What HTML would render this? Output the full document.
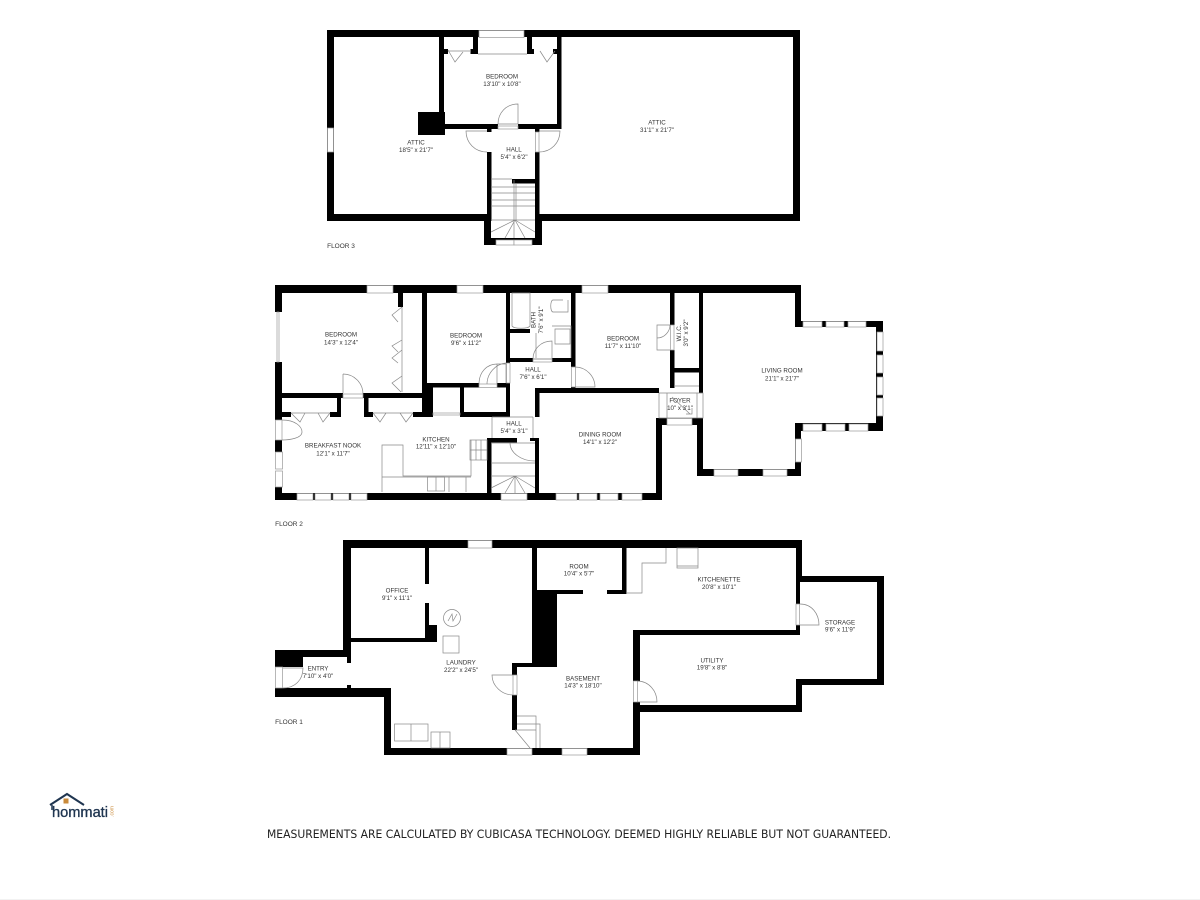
<!DOCTYPE html>
<html><head><meta charset="utf-8"><style>
html,body{margin:0;padding:0;background:#fff;width:1200px;height:900px;overflow:hidden}
svg{display:block}
text{font-family:"Liberation Sans",sans-serif;fill:#333;text-anchor:middle;font-size:6.2px}
.w rect{fill:#000}
.o rect{fill:#fff;stroke:#999;stroke-width:.7}
.g rect{fill:#fff}
.l path,.l rect,.l circle{fill:none;stroke:#888;stroke-width:.7}
</style></head><body>
<svg width="1200" height="900" viewBox="0 0 1200 900" xmlns="http://www.w3.org/2000/svg">
<rect width="1200" height="900" fill="#fff"/>
<rect x="0" y="899" width="1200" height="1" fill="#f2f2f2"/>

<!-- FLOOR 3 walls -->
<g class="w">
<rect x="327" y="30" width="473" height="7"/>
<rect x="327" y="30" width="7" height="191"/>
<rect x="327" y="214" width="161" height="7"/>
<rect x="539" y="214" width="261" height="7"/>
<rect x="793" y="30" width="7" height="191"/>
<rect x="439" y="37" width="5" height="92"/>
<rect x="557" y="37" width="4.500" height="92"/>
<rect x="439" y="124" width="59" height="5"/>
<rect x="518" y="124" width="43" height="5"/>
<rect x="418" y="112" width="27" height="23"/>
<rect x="473" y="37" width="5" height="17"/>
<rect x="470.500" y="49" width="7.500" height="5"/>
<rect x="444" y="49" width="4" height="5"/>
<rect x="527" y="37" width="5" height="17"/>
<rect x="527" y="49" width="7" height="5"/>
<rect x="553" y="49" width="4" height="5"/>
<rect x="487" y="129" width="4.500" height="92"/>
<rect x="535" y="129" width="4.500" height="92"/>
<rect x="512" y="179" width="23" height="4.500"/>
<rect x="484" y="221" width="7" height="24"/>
<rect x="535" y="221" width="7" height="24"/>
<rect x="484" y="238" width="58" height="7"/>
</g>
<g class="g">
<rect x="487" y="132" width="4.500" height="20"/>
<rect x="535" y="132" width="4.500" height="20"/>
</g>
<g class="o">
<rect x="479" y="30.500" width="45" height="7"/>
<rect x="327.500" y="128" width="6" height="24"/>
<rect x="496" y="240" width="18" height="5"/>
<rect x="514" y="240" width="18" height="5"/>
<rect x="498" y="126" width="20" height="3"/>
<rect x="535.500" y="132" width="3.500" height="20"/>
</g>
<g class="l">
<path d="M518 104V124H498C498 113 506 104 518 104Z"/>
<path d="M487 131H466C466 143 475 152 487 152"/>
<path d="M539 131H560C560 143 551 152 539 152"/>
<path d="M448 50L455 62L463 52M448 51H471"/>
<path d="M540 51L547 62L555 51"/>
<path d="M478 54H527"/>
<path d="M491 179H512M491 187H535M491 193H535M491 200H535M491 206H535M491 220H535M514 180V238M516 183V220M515 220L491 232M515 220L505 238M515 220L525 238M515 220L535 232"/>
</g>
<text x="502" y="78.500">BEDROOM</text><text x="502" y="86">13'10" x 10'8"</text>
<text x="416" y="144.500">ATTIC</text><text x="416" y="152">18'5" x 21'7"</text>
<text x="514" y="151.500">HALL</text><text x="514" y="159">5'4" x 6'2"</text>
<text x="657" y="124.500">ATTIC</text><text x="657" y="132">31'1" x 21'7"</text>
<text x="341" y="248" style="font-size:6.500px">FLOOR 3</text>

<!-- FLOOR 2 walls -->
<g class="w">
<rect x="275" y="285" width="526" height="8"/>
<rect x="795" y="285" width="6" height="42"/>
<rect x="795" y="321" width="88" height="6"/>
<rect x="876" y="321" width="7" height="110"/>
<rect x="795" y="423" width="88" height="8"/>
<rect x="795" y="423" width="6" height="53"/>
<rect x="697" y="469" width="104" height="7"/>
<rect x="697" y="418" width="6" height="58"/>
<rect x="699" y="293" width="4" height="100"/>
<rect x="275" y="285" width="7" height="27"/>
<rect x="275" y="362" width="7" height="58"/>
<rect x="275" y="440" width="7" height="12"/>
<rect x="275" y="487" width="7" height="13"/>
<rect x="275" y="493" width="387" height="7"/>
<rect x="656" y="418" width="6" height="82"/>
<rect x="656" y="418" width="11" height="7"/>
<rect x="692" y="418" width="11" height="7"/>
<rect x="535" y="388" width="140" height="5"/>
<rect x="535" y="388" width="4.500" height="29"/>
<rect x="535" y="439" width="4" height="61"/>
<rect x="670" y="293" width="4.500" height="100"/>
<rect x="674" y="368" width="25" height="4.500"/>
<rect x="506" y="293" width="4" height="124"/>
<rect x="571" y="293" width="4.500" height="97"/>
<rect x="510" y="358" width="65" height="4"/>
<rect x="510" y="329" width="20" height="4"/>
<rect x="422" y="293" width="5" height="105"/>
<rect x="422" y="384" width="11" height="33"/>
<rect x="282" y="393" width="145" height="5"/>
<rect x="398" y="293" width="5" height="14"/>
<rect x="282" y="412" width="9" height="5"/>
<rect x="330" y="412" width="11" height="5"/>
<rect x="337" y="398" width="4" height="19"/>
<rect x="364" y="398" width="4.500" height="19"/>
<rect x="364" y="412" width="9" height="5"/>
<rect x="413" y="412" width="20" height="5"/>
<rect x="427" y="383" width="83" height="4.500"/>
<rect x="460" y="387" width="4" height="30"/>
<rect x="460" y="412" width="50" height="5"/>
<rect x="487" y="438" width="4.500" height="62"/>
<rect x="487" y="438" width="30" height="4.500"/>
<rect x="530" y="438" width="9" height="3"/>
</g>
<g class="g">
<rect x="343" y="393" width="20" height="5"/>
<rect x="479" y="383" width="18" height="4.500"/>
<rect x="533" y="358" width="19" height="4"/>
<rect x="571" y="367" width="4.500" height="20"/>
<rect x="670" y="325" width="4.500" height="25"/>
<rect x="675" y="388" width="0" height="0"/>
<rect x="659" y="388" width="16" height="5"/>
<rect x="506" y="363" width="4" height="20"/>
</g>
<g class="o">
<rect x="367" y="285.500" width="26" height="7.500"/>
<rect x="457" y="285.500" width="26" height="7.500"/>
<rect x="582" y="285.500" width="26" height="7.500"/>
<rect x="803" y="321.500" width="19" height="5.500"/>
<rect x="826" y="321.500" width="18" height="5.500"/>
<rect x="848" y="321.500" width="18" height="5.500"/>
<rect x="877" y="332" width="6" height="19"/>
<rect x="877" y="355" width="6" height="18"/>
<rect x="877" y="377" width="6" height="18"/>
<rect x="877" y="398" width="6" height="18"/>
<rect x="803" y="424" width="19" height="7"/>
<rect x="826" y="424" width="19" height="7"/>
<rect x="849" y="424" width="19" height="7"/>
<rect x="795.500" y="439" width="6" height="23"/>
<rect x="714" y="469.500" width="24" height="6.500"/>
<rect x="763" y="469.500" width="24" height="6.500"/>
<rect x="667" y="418.500" width="25" height="6.500"/>
<rect x="275.500" y="420" width="6.500" height="20"/>
<rect x="275.500" y="452" width="7" height="17"/>
<rect x="275.500" y="471" width="7" height="16"/>
<rect x="297" y="493.500" width="16" height="6.500"/>
<rect x="315" y="493.500" width="16" height="6.500"/>
<rect x="333" y="493.500" width="16" height="6.500"/>
<rect x="351" y="493.500" width="16" height="6.500"/>
<rect x="501" y="493.500" width="26" height="6.500"/>
<rect x="556" y="493.500" width="21" height="6.500"/>
<rect x="579" y="493.500" width="18" height="6.500"/>
<rect x="600" y="493.500" width="18" height="6.500"/>
<rect x="622" y="493.500" width="20" height="6.500"/>
<rect x="343" y="394" width="20" height="4"/>
<rect x="479" y="384" width="18" height="3.500"/>
<rect x="533" y="359" width="19" height="3"/>
<rect x="571.500" y="367" width="4" height="20"/>
<rect x="670.500" y="325" width="3.500" height="25"/>
<rect x="506.500" y="363" width="3.500" height="20"/>
<rect x="277" y="312" width="2" height="50"/>
<rect x="433" y="413" width="27" height="2"/>
</g>
<g class="l">
<path d="M343 374C354 374 363 383 363 394M343 374V393"/>
<path d="M282 420C296 420 302 427 302 432C302 438 290 440 282 440"/>
<path d="M402 307L392 315L398 322M402 340L392 346L398 352M402 350L392 358L398 363M402 376L392 383L401 392M402 307V392"/>
<path d="M291 413L300 422L305 413M318 413L323 422L330 413M291 413H330"/>
<path d="M373 413L380 422L386 413M400 413L406 422L413 413M373 413H413"/>
<path d="M479 384C479 372 487 364 497 364V384M487 384C487 374 495 364 506 363M497 364H506V383"/>
<path d="M533 359C533 349 541 341 552 341V359H533"/>
<path d="M575 367C587 367 595 377 595 387H575"/>
<path d="M670 325H657V338C665 338 670 331 670 325M670 350H657V337"/>
<path d="M512 293H530V326C528 329 514 329 512 326Z"/>
<path d="M536 333V358M552 326H571V358M555 329H570V344H555Z"/>
<path d="M563 300H553C550 300 550 312 553 312H568V300"/>
<path d="M382 492V445H403V476H471V440"/>
<path d="M382 477H471M449 477V492M466 477V492"/>
<rect x="470" y="440" width="17" height="20"/>
<path d="M470 450H487M476 440V460M481 440V460"/>
<rect x="427.500" y="477" width="17" height="14"/>
<path d="M436 477V491"/>
<path d="M491 443H535M491 463H535M491 476H535M515 476V493M515 476L491 488M515 476L505 493M515 476L525 493M515 476L535 488M510 443C510 452 520 461 535 461"/>
<path d="M492 417H533M492 417V438M533 417V438"/>
<path d="M659 393V418H703V393H659M667 393V418M697 393V418M672 397L690 414M692 408V414H686"/>
<path d="M674 386H699"/>
</g>
<text x="341" y="336.500">BEDROOM</text><text x="341" y="344.500">14'3" x 12'4"</text>
<text x="466" y="337.500">BEDROOM</text><text x="466" y="345">9'6" x 11'2"</text>
<text x="623" y="340.500">BEDROOM</text><text x="623" y="348">11'7" x 11'10"</text>
<text x="533" y="371.500">HALL</text><text x="533" y="379">7'6" x 6'1"</text>
<text x="514" y="425.500">HALL</text><text x="514" y="433">5'4" x 3'1"</text>
<text x="333" y="447.500">BREAKFAST NOOK</text><text x="333" y="455.500">12'1" x 11'7"</text>
<text x="436" y="441.500">KITCHEN</text><text x="436" y="448.500">12'11" x 12'10"</text>
<text x="600" y="436.500">DINING ROOM</text><text x="600" y="444">14'1" x 12'2"</text>
<text x="782" y="372.500">LIVING ROOM</text><text x="782" y="380.500">21'1" x 21'7"</text>
<text x="680" y="402.500">FOYER</text><text x="680" y="410">10" x 3'1"</text>
<text transform="translate(535.500,320) rotate(-90)">BATH</text><text transform="translate(543,320) rotate(-90)">7'6" x 9'1"</text>
<text transform="translate(681,333) rotate(-90)">W.I.C.</text><text transform="translate(688,333) rotate(-90)">3'0" x 9'2"</text>
<text x="289" y="526" style="font-size:6.500px">FLOOR 2</text>

<!-- FLOOR 1 walls -->
<g class="w">
<rect x="343" y="540" width="459" height="8"/>
<rect x="343" y="540" width="8" height="117"/>
<rect x="275" y="650" width="76" height="7"/>
<rect x="275" y="650" width="28" height="17"/>
<rect x="275" y="688" width="116" height="9"/>
<rect x="384" y="688" width="7" height="67"/>
<rect x="384" y="748" width="256" height="7"/>
<rect x="633" y="630" width="7" height="51"/>
<rect x="633" y="702" width="7" height="53"/>
<rect x="633" y="630" width="167" height="5"/>
<rect x="796" y="540" width="6" height="37"/>
<rect x="796" y="577" width="4" height="27"/>
<rect x="796" y="625" width="4" height="10"/>
<rect x="796" y="576" width="88" height="6"/>
<rect x="877" y="576" width="7" height="109"/>
<rect x="796" y="679" width="88" height="6"/>
<rect x="796" y="679" width="6" height="33"/>
<rect x="633" y="705" width="169" height="7"/>
<rect x="425" y="548" width="4" height="36"/>
<rect x="425" y="603" width="4" height="37"/>
<rect x="425" y="625" width="12" height="17"/>
<rect x="351" y="638" width="86" height="4"/>
<rect x="347" y="657" width="4" height="6"/>
<rect x="347" y="685" width="4" height="4"/>
<rect x="532" y="548" width="5" height="119"/>
<rect x="532" y="590" width="25" height="77"/>
<rect x="537" y="590" width="46" height="4"/>
<rect x="607" y="590" width="19" height="4"/>
<rect x="622" y="548" width="4.500" height="46"/>
<rect x="512" y="663" width="45" height="4"/>
<rect x="512" y="663" width="5" height="12"/>
<rect x="512" y="695" width="5" height="35"/>
</g>
<g class="o">
<rect x="468" y="540.500" width="24" height="7.500"/>
<rect x="507" y="748.500" width="25" height="6.500"/>
<rect x="562" y="748.500" width="25" height="6.500"/>
<rect x="275.500" y="667" width="7" height="21"/>
<rect x="513" y="675" width="4" height="20"/>
<rect x="633.500" y="681" width="4" height="21"/>
<rect x="796" y="604" width="3.500" height="21"/>
</g>
<g class="l">
<path d="M283 668H303C303 680 295 688 283 688"/>
<path d="M513 675H492C492 686 502 695 513 695"/>
<path d="M637 681C649 681 657 691 657 702H637"/>
<path d="M800 604C812 604 819 614 819 625H800"/>
<path d="M626 593H642V563H666V548"/>
<rect x="677" y="548" width="21" height="20"/>
<path d="M677 566H698"/>
<circle cx="452" cy="618" r="8.500"/>
<path d="M448 621L452 614L453 621L457 614"/>
<rect x="443" y="636" width="16" height="17"/>
<rect x="394.500" y="724" width="33.500" height="17"/>
<path d="M411 724V741"/>
<rect x="431" y="732" width="19" height="16"/>
<path d="M440 732V748"/>
<path d="M517 716H536V748M517 724H540V748M515 730L530 748M515 730H536"/>
</g>
<text x="397" y="592.500">OFFICE</text><text x="397" y="600">9'1" x 11'1"</text>
<text x="579" y="568.500">ROOM</text><text x="579" y="575.500">10'4" x 5'7"</text>
<text x="719" y="581.500">KITCHENETTE</text><text x="719" y="589">20'8" x 10'1"</text>
<text x="840" y="624.500">STORAGE</text><text x="840" y="631.500">9'6" x 11'9"</text>
<text x="712" y="662.500">UTILITY</text><text x="712" y="669.500">19'8" x 8'8"</text>
<text x="583" y="680.500">BASEMENT</text><text x="583" y="687.500">14'3" x 18'10"</text>
<text x="461" y="664.500">LAUNDRY</text><text x="461" y="672">22'2" x 24'5"</text>
<text x="318" y="670.500">ENTRY</text><text x="318" y="678">7'10" x 4'0"</text>
<text x="289" y="724" style="font-size:6.500px">FLOOR 1</text>

<!-- logo -->
<path d="M50 805L67 794L84 805" fill="none" stroke="#1f3550" stroke-width="2"/>
<path d="M52 805V810" fill="none" stroke="#1f3550" stroke-width="1.500"/>
<rect x="63.500" y="798.500" width="5" height="5" fill="#c98a3a"/>
<text x="80" y="817" textLength="56" lengthAdjust="spacingAndGlyphs" style="font-size:15px;fill:#1f3550;stroke:#1f3550;stroke-width:.35">hommati</text>
<text transform="translate(113.500,811.500) rotate(-90)" style="font-size:5px;fill:#c98a3a">.com</text>

<text x="579" y="838" textLength="624" lengthAdjust="spacingAndGlyphs" style="font-size:11.500px;fill:#222;font-family:'DejaVu Sans','Liberation Sans',sans-serif">MEASUREMENTS ARE CALCULATED BY CUBICASA TECHNOLOGY. DEEMED HIGHLY RELIABLE BUT NOT GUARANTEED.</text>
</svg>
</body></html>
